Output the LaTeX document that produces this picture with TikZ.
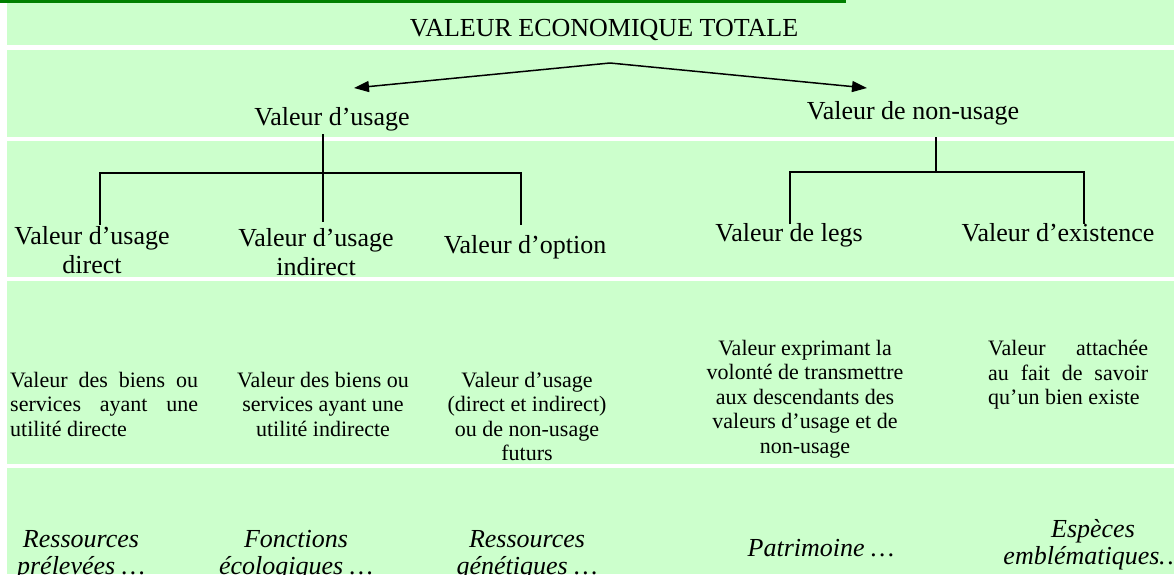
\documentclass[tikz,border=0pt]{standalone}
\usepackage{fontspec}
\setmainfont{Liberation Serif}
\usetikzlibrary{arrows.meta}
\definecolor{bandgreen}{HTML}{CCFFCC}
\definecolor{bargreen}{HTML}{008000}
\begin{document}
\begin{tikzpicture}[x=1pt,y=-1pt,
  band/.style={fill=bandgreen,draw=none},
  head/.style={font=\fontsize{26}{29}\selectfont,inner sep=0pt,align=center},
  desc/.style={font=\fontsize{22}{24.5}\selectfont,inner sep=0pt},
  ex/.style={font=\fontsize{26}{27}\selectfont\itshape,inner sep=0pt,align=center},
  link/.style={line width=1.5pt},
  arr/.style={line width=1.5pt,-{Triangle[length=15pt,width=11pt]}}]
\useasboundingbox (0,0) rectangle (1174,574);
\begin{scope}
\clip (0,0) rectangle (1174,574);
% bands
\fill[band] (7,0) rectangle (1174,45);
\fill[band] (7,50) rectangle (1174,137);
\fill[band] (7,141) rectangle (1174,277);
\fill[band] (7,281) rectangle (1174,464);
\fill[band] (7,468) rectangle (1174,574);
\fill[bargreen] (0,0) rectangle (846,3);

% level 0
\node[head,anchor=base] (tot) at (604,36) {VALEUR ECONOMIQUE TOTALE};
\coordinate (apex) at (610,63);
\coordinate (tipL) at (354,88);
\coordinate (tipR) at (867,88);
\draw[arr] (apex) -- (tipL);
\draw[arr] (apex) -- (tipR);

% level 1
\node[head,anchor=base] (vu) at (332,125) {Valeur d’usage};
\node[head,anchor=base] (vnu) at (913,119) {Valeur de non-usage};

% level 2
\node[head,anchor=north] (vud) at (92,226) {Valeur d’usage\\direct};
\node[head,anchor=north] (vui) at (316,228) {Valeur d’usage\\indirect};
\node[head,anchor=base] (vo) at (525,253) {Valeur d’option};
\node[head,anchor=base] (vl) at (789,241) {Valeur de legs};
\node[head,anchor=base] (ve) at (1058,241) {Valeur d’existence};

% tree under Valeur d'usage
\coordinate (u0) at (323,134);
\coordinate (u1) at (323,173);
\coordinate (uL) at (100,173);
\coordinate (uR) at (521,173);
\coordinate (uLe) at (100,225);
\coordinate (uMe) at (323,222);
\coordinate (uRe) at (521,225);
\draw[link] (u0) -- (uMe);
\draw[link] (uLe) -- (uL) -- (uR) -- (uRe);

% tree under Valeur de non-usage
\coordinate (n0) at (936,137);
\coordinate (n1) at (936,172);
\coordinate (nL) at (790,172);
\coordinate (nR) at (1084,172);
\coordinate (nLe) at (790,224);
\coordinate (nRe) at (1084,224);
\draw[link] (n0) -- (n1);
\draw[link] (nLe) -- (nL) -- (nR) -- (nRe);

% descriptions
\node[desc,align=left,anchor=north west] (d1) at (10,372)
  {\makebox[188pt][s]{Valeur des biens ou}\\\makebox[188pt][s]{services ayant une}\\utilité directe};
\node[desc,align=center,anchor=north] (d2) at (323,372)
  {Valeur des biens ou\\services ayant une\\utilité indirecte};
\node[desc,align=center,anchor=north] (d3) at (527,372)
  {Valeur d’usage\\(direct et indirect)\\ou de non-usage\\futurs};
\node[desc,align=center,anchor=north] (d4) at (805,340)
  {Valeur exprimant la\\volonté de transmettre\\aux descendants des\\valeurs d’usage et de\\non-usage};
\node[desc,align=left,anchor=north west] (d5) at (988,340)
  {\makebox[160pt][s]{Valeur attachée}\\\makebox[160pt][s]{au fait de savoir}\\qu’un bien existe};

% examples
\node[ex,anchor=north] (e1) at (81,530) {Ressources\\prélevées …};
\node[ex,anchor=north] (e2) at (296,530) {Fonctions\\écologiques …};
\node[ex,anchor=north] (e3) at (527,530) {Ressources\\génétiques …};
\node[ex,anchor=base] (e4) at (821,556) {Patrimoine …};
\node[ex,anchor=north] (e5) at (1093,519) {Espèces\\emblématiques…};
\end{scope}
\end{tikzpicture}
\end{document}
